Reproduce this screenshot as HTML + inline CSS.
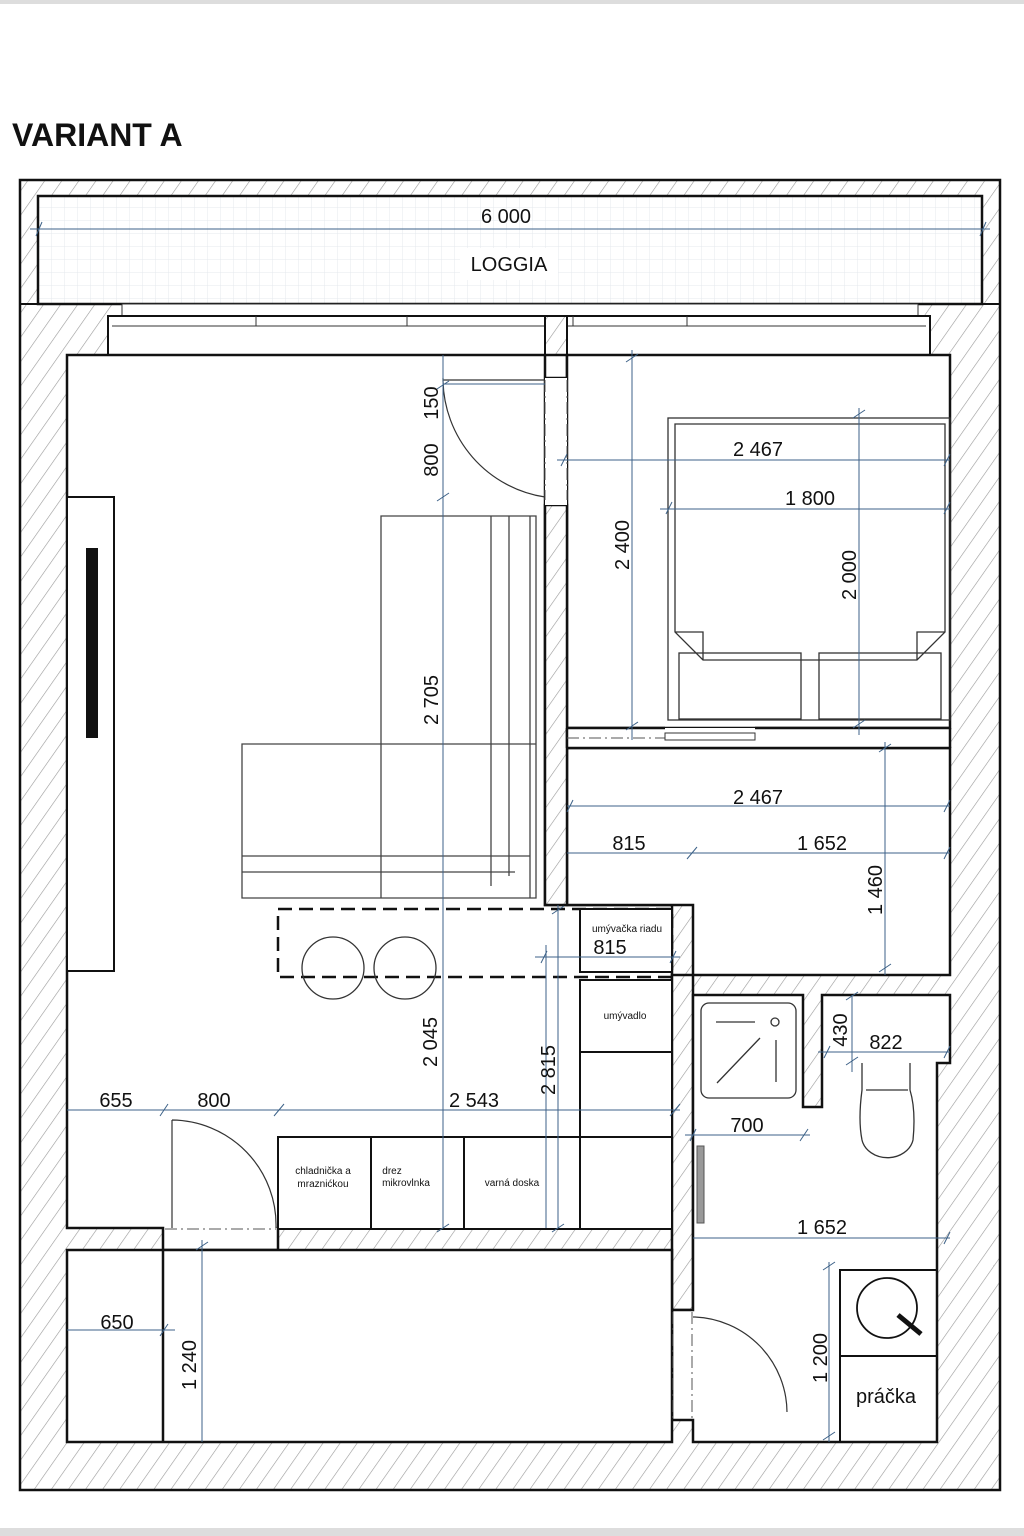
<!DOCTYPE html>
<html><head><meta charset="utf-8"><style>
html,body{margin:0;padding:0;background:#fff;}
svg{display:block}
text{font-family:"Liberation Sans",sans-serif;fill:#111}
</style></head><body>
<svg width="1024" height="1536" viewBox="0 0 1024 1536" xmlns="http://www.w3.org/2000/svg">
<defs>
<pattern id="h" width="14" height="14" patternUnits="userSpaceOnUse" patternTransform="rotate(35)">
<rect width="14" height="14" fill="#fff"/><line x1="0" y1="0" x2="0" y2="14" stroke="#999" stroke-width="1.2"/>
</pattern>
<pattern id="g" width="13" height="13" patternUnits="userSpaceOnUse">
<rect width="13" height="13" fill="#fff"/><path d="M13 0V13H0" fill="none" stroke="#e4e8ee" stroke-width="1"/>
</pattern>
</defs>
<rect x="0" y="0" width="1024" height="4" fill="#ddd"/>
<rect x="0" y="1528" width="1024" height="8" fill="#ddd"/>
<text x="12" y="146" font-size="32" font-weight="bold">VARIANT A</text>

<rect x="20" y="180" width="980" height="1310" fill="url(#h)" stroke="#111" stroke-width="2.5"/>
<rect x="38" y="196" width="944" height="108" fill="url(#g)" stroke="#111" stroke-width="2.5"/>
<line x1="20" y1="304" x2="1000" y2="304" stroke="#111" stroke-width="2"/>
<rect x="460" y="248" width="98" height="32" fill="#fff"/>
<rect x="122" y="304" width="796" height="12" fill="#fff" stroke="#333" stroke-width="1"/>
<rect x="108" y="316" width="822" height="39" fill="#fff" stroke="#111" stroke-width="2"/>
<path d="M112 326H926M256 316V326M407 316V326M687 316V326M548 316V326M573 316V326" stroke="#333" stroke-width="1" fill="none"/>
<rect x="545" y="316" width="22" height="62" fill="url(#h)" stroke="#111" stroke-width="2"/>

<g fill="#fff" stroke="#111" stroke-width="2.5">
<path d="M67 355H545V378H567V355H545V905H672V1228H278V1250H163V1228H67Z"/>
<rect x="567" y="355" width="383" height="373"/>
<path d="M567 748H950V975H693V905H567Z"/>
<path d="M672 975H693V1310H672Z" fill="url(#h)"/>
<path d="M693 995H803V1107H822V995H950V1063H937V1442H693V1420H672V1310H693Z"/>
<path d="M67 1250H672V1442H67Z"/>
</g>
<rect x="545" y="505" width="22" height="400" fill="url(#h)" stroke="#111" stroke-width="2.5"/>
<rect x="545" y="378" width="22" height="127" fill="#fff"/>
<path d="M545 380V500M567 380V500" stroke="#555" stroke-dasharray="12,4,2,4" stroke-width="1"/>
<rect x="567" y="728" width="383" height="20" fill="#fff"/>
<path d="M567 728V748M950 728V748" stroke="#111" stroke-width="2.5"/>
<path d="M567 738H665" stroke="#555" stroke-dasharray="12,4,2,4"/>
<rect x="665" y="733" width="90" height="7" fill="#fff" stroke="#333" stroke-width="1"/>
<path d="M567 728H665M755 728H950M567 748H950" stroke="#111" stroke-width="2.5"/>
<path d="M163 1250V1442" stroke="#111" stroke-width="2.5"/>
<path d="M163 1230V1250M278 1228V1250" stroke="#111" stroke-width="2"/>
<path d="M165 1229H276" stroke="#555" stroke-dasharray="12,4,2,4"/>
<path d="M673 1312V1418M692 1312V1418" stroke="#555" stroke-dasharray="12,4,2,4"/>

<rect x="67" y="497" width="47" height="474" fill="#fff" stroke="#111" stroke-width="2"/>
<rect x="86" y="548" width="12" height="190" fill="#111"/>

<g fill="none" stroke="#333" stroke-width="1.2">
<path d="M443 378V380A120 120 0 0 0 545 497"/>
<path d="M443 380H545"/>
<path d="M172 1120V1228M172 1120A105 105 0 0 1 276 1228"/>
<path d="M693 1317H695A96 96 0 0 1 787 1412"/>
</g>

<g fill="none" stroke="#444" stroke-width="1.3">
<path d="M381 516H536V898H242V744H381Z"/>
<path d="M381 744V898M491 516V886M509 516V876M530 516V898M242 856H530M242 872H515M381 744H536M491 744V870"/>
</g>

<rect x="278" y="909" width="394" height="68" fill="none" stroke="#111" stroke-width="2.5" stroke-dasharray="14,7"/>
<circle cx="333" cy="968" r="31" fill="none" stroke="#333" stroke-width="1.3"/>
<circle cx="405" cy="968" r="31" fill="none" stroke="#333" stroke-width="1.3"/>

<g fill="#fff" stroke="#111" stroke-width="2">
<rect x="580" y="909" width="92" height="63"/>
<rect x="580" y="980" width="92" height="72"/>
<rect x="580" y="1052" width="92" height="85"/>
<rect x="278" y="1137" width="93" height="92"/>
<rect x="371" y="1137" width="93" height="92"/>
<rect x="464" y="1137" width="116" height="92"/>
<rect x="580" y="1137" width="92" height="92"/>
</g>
<g font-size="10" text-anchor="middle">
<text x="627" y="932">umývačka riadu</text>
<text x="625" y="1019">umývadlo</text>
<text x="323" y="1174">chladnička a</text>
<text x="323" y="1187">mraznićkou</text>
<text x="392" y="1174">drez</text>
<text x="406" y="1186">mikrovlnka</text>
<text x="512" y="1186">varná doska</text>
</g>

<g fill="none" stroke="#333" stroke-width="1.3">
<rect x="668" y="418" width="282" height="302"/>
<path d="M675 424H945V632L917 660H703L675 632Z"/>
<path d="M675 632H703V660M945 632H917V660"/>
<rect x="679" y="653" width="122" height="66"/>
<rect x="819" y="653" width="122" height="66"/>
</g>

<g fill="none" stroke="#333" stroke-width="1.3">
<rect x="701" y="1003" width="95" height="95" rx="8"/>
<path d="M716 1022H755M776 1040V1082M717 1083L760 1038"/>
<circle cx="775" cy="1022" r="4"/>
<path d="M862 1063V1090Q858 1120 862 1140A26 22 0 0 0 913 1140Q916 1110 910 1090V1063"/>
<path d="M866 1090H908"/>
<rect x="840" y="1270" width="97" height="86" stroke="#111" stroke-width="2"/>
<rect x="840" y="1356" width="97" height="86" stroke="#111" stroke-width="2"/>
<circle cx="887" cy="1308" r="30" stroke="#111" stroke-width="1.8"/>
<path d="M898 1315L921 1334" stroke="#111" stroke-width="5"/>
</g>
<rect x="697" y="1146" width="7" height="77" fill="#999" stroke="#555"/>
<text x="886" y="1403" font-size="20" text-anchor="middle">práčka</text>

<g stroke="#3d6288" stroke-width="1" fill="none">
<path d="M30 229H990M36 236L42 222M980 236L986 222"/>
<path d="M443 355V1228M437 389L449 381M437 501L449 493M437 1232L449 1224"/>
<path d="M443 384H545"/>
<path d="M632 350V740M626 362L638 354M626 730L638 722"/>
<path d="M557 460H950M561 466L567 454M944 466L950 454"/>
<path d="M859 408V735M853 418L865 410M853 728L865 720"/>
<path d="M660 509H950M666 514L672 502M944 514L950 502"/>
<path d="M567 806H950M944 812L950 800M567 812L573 800"/>
<path d="M567 853H950M687 859L697 847M944 859L950 847"/>
<path d="M885 742V975M879 752L891 744M879 972L891 964"/>
<path d="M535 957H680M541 963L547 951M670 963L676 951"/>
<path d="M546 945V1228"/>
<path d="M558 905V1228M552 914L564 906M552 1232L564 1224"/>
<path d="M67 1110H680M274 1116L284 1104M670 1116L680 1104M160 1116L168 1104"/>
<path d="M685 1135H810M690 1141L696 1129M800 1141L808 1129"/>
<path d="M818 1052H950M824 1058L830 1046M944 1058L950 1046"/>
<path d="M852 995V1072M846 1000L858 992M846 1065L858 1057"/>
<path d="M693 1238H950M944 1244L950 1232"/>
<path d="M829 1262V1442M823 1270L835 1262M823 1440L835 1432"/>
<path d="M67 1330H175M160 1336L168 1324"/>
<path d="M202 1240V1442M196 1250L208 1242"/>
</g>

<g font-size="20" text-anchor="middle">
<text x="506" y="223">6 000</text>
<text x="509" y="271">LOGGIA</text>
<text x="758" y="456">2 467</text>
<text x="810" y="505">1 800</text>
<text x="758" y="804">2 467</text>
<text x="629" y="850">815</text>
<text x="822" y="850">1 652</text>
<text x="610" y="954">815</text>
<text x="116" y="1107">655</text>
<text x="214" y="1107">800</text>
<text x="474" y="1107">2 543</text>
<text x="747" y="1132">700</text>
<text x="886" y="1049">822</text>
<text x="822" y="1234">1 652</text>
<text x="117" y="1329">650</text>
<text transform="translate(438,403) rotate(-90)">150</text>
<text transform="translate(438,460) rotate(-90)">800</text>
<text transform="translate(438,700) rotate(-90)">2 705</text>
<text transform="translate(629,545) rotate(-90)">2 400</text>
<text transform="translate(856,575) rotate(-90)">2 000</text>
<text transform="translate(882,890) rotate(-90)">1 460</text>
<text transform="translate(437,1042) rotate(-90)">2 045</text>
<text transform="translate(555,1070) rotate(-90)">2 815</text>
<text transform="translate(847,1030) rotate(-90)">430</text>
<text transform="translate(827,1358) rotate(-90)">1 200</text>
<text transform="translate(196,1365) rotate(-90)">1 240</text>
</g>
</svg>
</body></html>
